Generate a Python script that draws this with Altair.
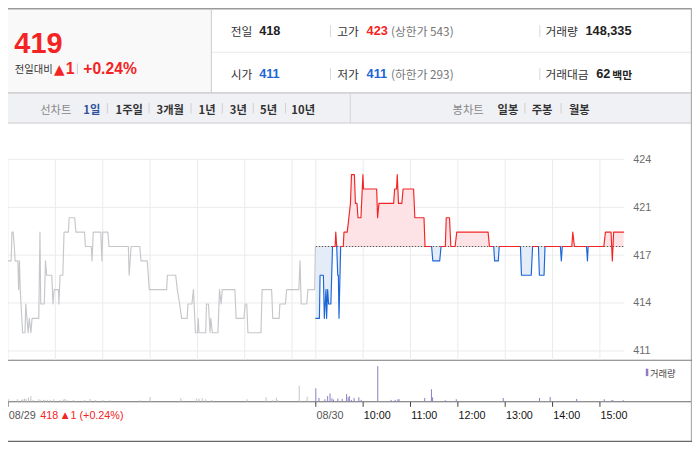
import altair as alt
import pandas as pd

# ---------------- values ----------------
prev_close = 418

# 08/29 intraday price: (minutes after 09:00, price)
prev_points = [(0,417),(4,417),(5,419),(6.5,419),(8,418),(9,417),(12.5,417),(13.5,415),(14.5,417),(15.5,415),
    (18.5,412),(21.5,412),(22.5,414),(24,413),(25.5,412),(27,413),(29,412),(30.5,413),(39,413),(40.5,419),
    (41.5,414),(46,414),(47.5,417),(49,416),(55.5,416),(57,414),(58.5,415),(64,415),(64.5,414),(66,416),
    (69.5,416),(71,419),(76.5,419),(77.5,420),(84.5,420),(86,419),(97,419),(98,418),(105.5,418),(106.5,417),
    (108,419),(117.5,419),(119,417),(120,419),(126.5,419),(128,418),(152.5,418),(153.5,416),(156,418),(167,418),
    (168.5,417),(176.5,417),(179,415),(201,415),(202,416),(212.5,416),(214.5,415),(217.5,414),(220,413),(227,413),
    (228,414),(233,414),(235,415),(237.5,412),(240,412),(241,413),(242,412),(250.5,412),(251.5,414),(254,414),
    (256,412),(257,413),(259,412),(266,412),(268,415),(270,414),(271.5,415),(287.5,415),(289,413),(299,413),
    (300.5,414),(302.5,414),(304,412),(320.5,412),(322,415),(334,415),(335.5,413),(343.5,413),(344.5,414),(351.5,414),
    (353,415),(368.5,415),(370,417),(371.5,414),(378.5,414),(380,415),(388.5,415),(389.5,418)]

# 08/30 intraday price: (minutes after 08/29 09:00, price)
today_points = [(390,413),(394.6,413),(395.4,416),(399.6,416),(400.8,413),(402.9,415),(403.7,413),(405,415),
    (406.2,414),(409.1,414),(411.2,418),(414.5,418),(415.3,419),(416.5,418),(417.8,416),(418.6,416),(419.4,413),
    (421.5,418),(424.8,418),(425.7,419),(429.8,419),(431.9,420),(433.9,421),(435.2,423),(438.9,423),(440.2,421),
    (442.2,421),(443.5,420),(447.2,420),(449.7,423),(450.5,422),(467.1,422),(468.3,420),(470,421),(488.6,421),
    (489.9,422),(492.3,422),(493.2,423),(494.8,421),(499,421),(500.6,422),(513.9,422),(515.5,420),(527.1,420),
    (528.4,418),(536.7,418),(538.3,417),(547,417),(548.7,418),(554.1,418),(555.3,420),(559.4,420),(561.1,418),
    (566.5,418),(568.6,419),(608.3,419),(610,418),(615.4,418),(616.6,417),(621.2,417),(622.4,418),(649.3,418),
    (650.6,416),(663,416),(664.7,418),(672.1,418),(673.3,416),(679.2,416),(680.4,418),(699.9,418),(701.1,417),
    (702.3,418),(714.4,418),(715.6,419),(717.7,418),(733,418),(734.2,417),(735.1,418),(754.9,418),(757,419),
    (764.1,419),(765.7,417),(767.4,419),(780,419)]

# volume bars: (minute, shares)
vol_prev = [(1,2100),(12,2100),(17,1500),(19,2100),(21,2700),(23,2400),(26,3600),(29,5100),(32,1500),(39,2100),
    (41,1500),(45,1500),(47,1500),(50,1500),(54,1500),(58,2100),(66,1500),(70,1800),(72,2400),(75,1500),(83,1500),
    (97,1500),(104,2400),(111,1500),(120,1500),(129,1200),(167,1200),(180,4200),(219,3300),(239,2700),(242,2700),
    (246,3300),(250,2100),(258,1500),(303,2100),(327,3900),(335,1200),(340,3600),(342,1200),(369,14700),(379,4500)]
vol_today = [(390,12300),(394,3300),(401.5,2100),(405,5100),(408,7500),(410.5,3000),(412.5,1800),(418,2700),
    (423.5,2400),(429,6900),(431,3900),(432.5,5100),(435,1500),(438.5,3300),(444.5,3900),(447.5,1500),
    (468.5,33000),(485.5,1500),(490.5,1500),(494,2100),(495.5,2100),(528,3300),(536.5,11400),(538,3900),
    (554,1200),(568,2100),(627.5,3300),(673.5,3300),(687,4200),(720.5,2400),(755.5,2100),(765,1200),
    (766.5,1200),(779.5,1200)]

price_ticks = [410.73, 414.07, 417.4, 420.73, 424.07]
price_tick_labels = ["411", "414", "417", "421", "424"]
time_ticks = [0, 390, 450, 510, 570, 630, 690, 750]
time_tick_labels = ["08/29", "08/30", "10:00", "11:00", "12:00", "13:00", "14:00", "15:00"]
grid_minutes = [0, 60, 120, 180, 240, 300, 360, 390, 450, 510, 570, 630, 690, 750]

# header values
cur_price = "419"
chg_abs = "1"
chg_pct = "+0.24%"
prev_price, open_price, high_price, low_price = "418", "411", "423", "411"
upper_limit, lower_limit = "543", "293"
volume_total, value_total = "148,335", "62"

line_tabs = ["1일", "1주일", "3개월", "1년", "3년", "5년", "10년"]
candle_tabs = ["일봉", "주봉", "월봉"]

# ---------------- layout ----------------
W, H = 684, 434
SX, SY = W / 700, H / 450
FS = 0.98
def X(p): return p * SX
def Y(p): return p * SY

RED, BLUE, GRAY = "#f42424", "#1d66d8", "#c5c7cb"
PINK, LBLUE = "#fde3e6", "#e4ecf8"
PURPLE = "#8e7cc3"
KR, LAT = "Noto Sans CJK KR", "Liberation Sans"

x_scale = alt.Scale(domain=[0, 780], range=[X(0), X(630)], nice=False, zero=False)
py_scale = alt.Scale(domain=[410, 425], range=[Y(366.5), Y(143.0)], nice=False, zero=False)
vy_scale = alt.Scale(domain=[0, 40000], range=[Y(408), Y(408 - 40000 / 900)], nice=False)

def XM(field):
    return alt.X(field, scale=x_scale, axis=None)

def YP(field):
    return alt.Y(field, scale=py_scale, axis=None)

# ---- rectangles: backgrounds & rule lines (x0, y0, x1, y1, colour)
rects = [
    (0, 1.5, 208, 88, "#f9f9f9"),
    (0, 0, 700, 1.6, "#9a9a9a"),
    (207.6, 1.5, 208.7, 88, "#cfcfcf"),
    (208.7, 45.3, 699, 46.3, "#e8e8e8"),
    (0, 87.4, 700, 89, "#c4c4c4"),
    (0, 89, 699, 118.6, "#f0f1f5"),
    (0, 118.6, 700, 119.8, "#c8c8c8"),
    (349.8, 89, 350.8, 118.6, "#d4d4d4"),
    (698.8, 0, 700, 450, "#adadad"),
    (0, 364.6, 700, 365.8, "#7a7a7a"),
    (0, 407.8, 699, 408.9, "#6a6a6a"),
    (0, 448.8, 700, 450, "#6a6a6a"),
    (329.5, 18, 330.5, 30, "#d8d8d8"), (543.8, 18, 544.8, 30, "#d8d8d8"),
    (329.5, 62.5, 330.5, 74.5, "#d8d8d8"), (543.8, 62.5, 544.8, 74.5, "#d8d8d8"),
    (70.5, 57.5, 71.5, 68.5, "#cccccc"),
    (652.7, 374, 655.3, 381.7, PURPLE),
]
for sx in [101.7, 144.3, 187.3, 219.3, 251, 284, 529, 566]:
    rects.append((sx - 0.5, 98.5, sx + 0.5, 109.5, "#d0d0d0"))
rdf = pd.DataFrame(rects, columns=["x0", "y0", "x1", "y1", "c"])
rdf["x0"] *= SX; rdf["x1"] *= SX; rdf["y0"] *= SY; rdf["y1"] *= SY
rect_layer = alt.Chart(rdf).mark_rect(strokeWidth=0).encode(
    x=alt.X("x0:Q", scale=None, axis=None), x2="x1:Q",
    y=alt.Y("y0:Q", scale=None, axis=None), y2="y1:Q",
    color=alt.Color("c:N", scale=None))

def text_layer(rows, font, weight="normal", align="left", baseline="alphabetic"):
    df = pd.DataFrame(rows, columns=["t", "x", "y", "c", "s"])
    df["x"] = df["x"] * SX
    df["y"] = df["y"] * SY
    df["s"] = df["s"] * FS
    return alt.Chart(df).mark_text(font=font, fontWeight=weight, align=align, baseline=baseline).encode(
        x=alt.X("x:Q", scale=None, axis=None), y=alt.Y("y:Q", scale=None, axis=None),
        text="t:N", color=alt.Color("c:N", scale=None), size=alt.Size("s:Q", scale=None))

# ---- grid
vgrid = alt.Chart(pd.DataFrame({"m": grid_minutes})).mark_rule(color="#ebebeb", strokeWidth=1).encode(
    x=XM("m:Q"), y=alt.value(Y(156.7)), y2=alt.value(Y(365)))
hgrid = alt.Chart(pd.DataFrame({"v": price_ticks})).mark_rule(color="#ebebeb", strokeWidth=1).encode(
    y=YP("v:Q"), x=alt.value(X(0)), x2=alt.value(X(630)))

# ---- areas (today)
adf = pd.DataFrame(today_points, columns=["m", "v"])
adf["up"] = adf["v"].clip(lower=prev_close)
adf["dn"] = adf["v"].clip(upper=prev_close)
adf["base"] = prev_close
area_up = alt.Chart(adf).mark_area(color=PINK, opacity=1).encode(
    x=XM("m:Q"), y=YP("up:Q"), y2="base:Q")
area_dn = alt.Chart(adf).mark_area(color=LBLUE, opacity=1).encode(
    x=XM("m:Q"), y=YP("dn:Q"), y2="base:Q")

base_line = alt.Chart(pd.DataFrame({"m0": [390], "m1": [780], "v": [prev_close]})).mark_rule(
    color="#555555", strokeWidth=1, strokeDash=[1.5, 1.5]).encode(
    x=XM("m0:Q"), x2="m1:Q", y=YP("v:Q"))

# ---- price line split into coloured runs
rows = [dict(run=0, m=m, v=v, cls="prev", o=i) for i, (m, v) in enumerate(prev_points)]
run, last = 0, None
for i in range(len(today_points) - 1):
    (m0, v0), (m1, v1) = today_points[i], today_points[i + 1]
    if max(v0, v1) > prev_close:
        cls = "up"
    elif min(v0, v1) < prev_close:
        cls = "down"
    else:
        cls = "up"
    if cls != last:
        run += 1
        rows.append(dict(run=run, m=m0, v=v0, cls=cls, o=i))
    rows.append(dict(run=run, m=m1, v=v1, cls=cls, o=i + 1))
    last = cls
ldf = pd.DataFrame(rows)
price_line = alt.Chart(ldf).mark_line(strokeWidth=1.15, strokeJoin="round", strokeCap="round").encode(
    x=XM("m:Q"), y=YP("v:Q"),
    detail="run:N", order="o:Q",
    color=alt.Color("cls:N", scale=alt.Scale(domain=["prev", "up", "down"], range=[GRAY, RED, BLUE]), legend=None))

# ---- volume
vdf = pd.concat([
    pd.DataFrame(vol_prev, columns=["m", "vol"]).assign(day="prev"),
    pd.DataFrame(vol_today, columns=["m", "vol"]).assign(day="today")])
vdf["zero"] = 0
vol_layer = alt.Chart(vdf).mark_rule(strokeWidth=1).encode(
    x=XM("m:Q"), y=alt.Y("vol:Q", scale=vy_scale, axis=None), y2="zero:Q",
    color=alt.Color("day:N", scale=alt.Scale(domain=["prev", "today"], range=["#c4c4c4", PURPLE]), legend=None))

# ---- x ticks and labels
xticks = alt.Chart(pd.DataFrame({"m": time_ticks})).mark_rule(color="#444444", strokeWidth=1).encode(
    x=XM("m:Q"), y=alt.value(Y(408.5)), y2=alt.value(Y(413.5)))
xl = pd.DataFrame({"m": time_ticks, "t": time_tick_labels,
                   "c": ["#555555", "#555555"] + ["#111111"] * 6})
xlabels = alt.Chart(xl).mark_text(font=LAT, fontSize=11 * FS, align="left", baseline="alphabetic", dx=0.7).encode(
    x=XM("m:Q"), y=alt.value(Y(426)), text="t:N", color=alt.Color("c:N", scale=None))

# ---- y labels
yl = pd.DataFrame({"v": price_ticks, "t": price_tick_labels})
ylabels = alt.Chart(yl).mark_text(font=LAT, fontSize=11 * FS, align="left", baseline="middle", dy=0.5,
                                  color="#6b6b6b").encode(
    x=alt.value(X(640)), y=YP("v:Q"), text="t:N")

# ---- header / tab texts
texts = [
    text_layer([(cur_price, 6.5, 47, RED, 29.5)], LAT, "bold"),
    text_layer([("전일대비", 7, 67.5, "#333333", 10.5)], KR),
    text_layer([("▲", 47, 68, RED, 14)], "DejaVu Sans"),
    text_layer([(chg_abs, 59, 68.3, RED, 16), (chg_pct, 77, 68.3, RED, 16)], LAT, "bold"),
    text_layer([("전일", 228, 28.8, "#333333", 12), ("고가", 337, 28.8, "#333333", 12),
                ("거래량", 550, 28.8, "#333333", 12), ("시가", 228, 73.2, "#333333", 12),
                ("저가", 337, 73.2, "#333333", 12), ("거래대금", 550, 73.2, "#333333", 12)], KR),
    text_layer([(prev_price, 257, 28.3, "#222222", 13), (high_price, 367, 28.3, RED, 13),
                (volume_total, 591, 28.3, "#222222", 13), (open_price, 257, 72.7, BLUE, 13),
                (low_price, 367, 72.7, BLUE, 13), (value_total, 602, 72.7, "#222222", 13)], LAT, "bold"),
    text_layer([("백만", 618.5, 73.2, "#222222", 11)], KR, "bold"),
    text_layer([("(상한가 " + upper_limit + ")", 392, 28.8, "#777777", 12),
                ("(하한가 " + lower_limit + ")", 392, 73.2, "#777777", 12)], KR),
    text_layer([("선차트", 33, 109.5, "#888888", 11.5), ("봉차트", 455, 109.5, "#888888", 11.5)], KR),
    text_layer([(line_tabs[0], 77, 109.5, "#2f52a0", 11.5)] +
               [(t, x, 109.5, "#333333", 11.5) for t, x in zip(line_tabs[1:], [110, 152, 195, 227, 258, 290])] +
               [(t, x, 109.5, "#333333", 11.5) for t, x in zip(candle_tabs, [501, 536, 574])], KR, "bold"),
    text_layer([("418", 33, 426, RED, 11), ("1 (+0.24%)", 64, 426, RED, 11)], LAT),
    text_layer([("▲", 55, 425.5, RED, 9)], "DejaVu Sans"),
    text_layer([("거래량", 657, 382.5, "#444444", 9.5)], KR),
]

chart = alt.layer(
    rect_layer, vgrid, hgrid, area_up, area_dn, base_line, price_line, vol_layer, xticks, xlabels, ylabels, *texts
).resolve_scale(
    x="independent", y="independent", color="independent", size="independent"
).properties(
    width=W, height=H, padding=0, autosize=alt.AutoSizeParams(type="none")
).configure_view(strokeWidth=0)

chart.save("out.html", embed_options={"renderer": "svg", "actions": False})
